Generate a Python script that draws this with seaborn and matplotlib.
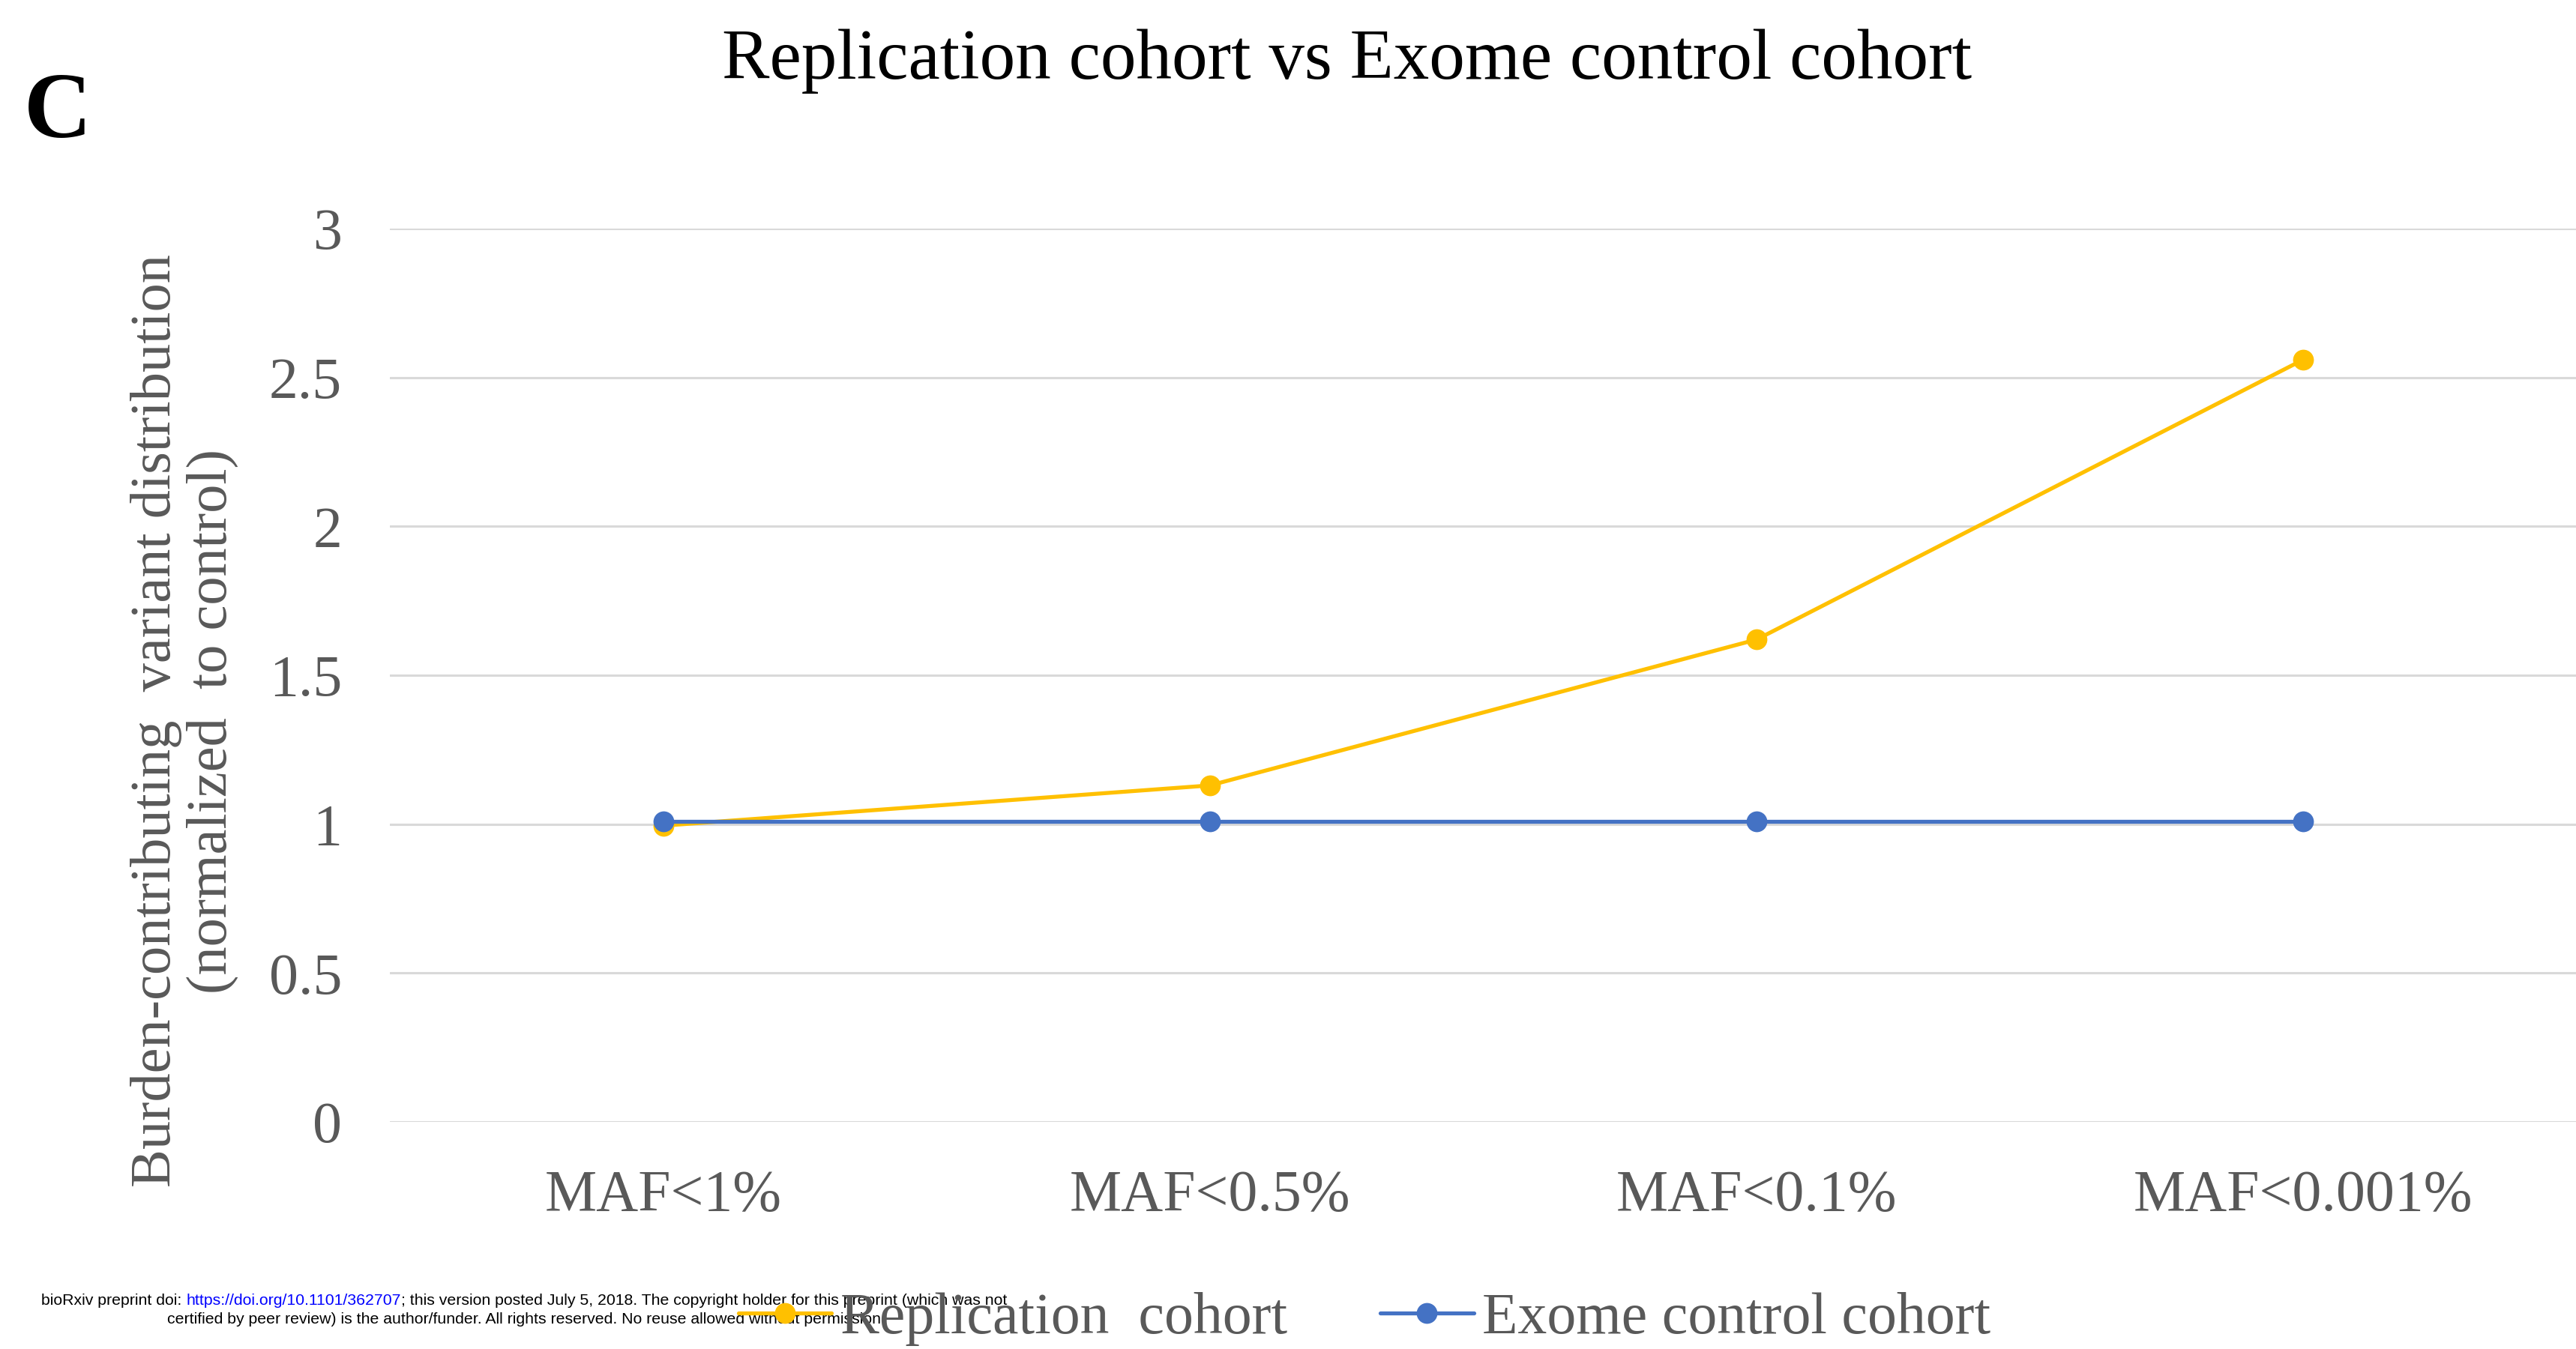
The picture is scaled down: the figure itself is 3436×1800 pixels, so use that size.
import matplotlib
matplotlib.use("Agg")
import matplotlib.pyplot as plt
import seaborn as sns
import pandas as pd

categories = ["MAF<1%", "MAF<0.5%", "MAF<0.1%", "MAF<0.001%"]
replication = [0.995, 1.13, 1.62, 2.56]
exome = [1.01, 1.01, 1.01, 1.01]
series_names = ["Replication  cohort", "Exome control cohort"]
yticks = [0, 0.5, 1, 1.5, 2, 2.5, 3]
ytick_labels = ["0", "0.5", "1", "1.5", "2", "2.5", "3"]

df = pd.DataFrame({
    "cat": categories * 2,
    "val": replication + exome,
    "series": [series_names[0]] * 4 + [series_names[1]] * 4,
})

sns.set_theme(style="white")
plt.rcParams["font.family"] = ["Liberation Serif", "DejaVu Serif"]

TXT = "#595959"
YEL = "#FFC000"
BLU = "#4472C4"
GRID = "#D9D9D9"

fig = plt.figure(figsize=(34.37, 18.0), dpi=100)
ax = fig.add_axes([520 / 3437, 1 - 1497 / 1800, 1 - 520 / 3437, (1497 - 305) / 1800])

sns.lineplot(data=df, x="cat", y="val", hue="series", hue_order=series_names,
             palette=[YEL, BLU], marker="o", markersize=20, markeredgewidth=0,
             linewidth=3.8, sort=False, ax=ax)

ax.set_xlim(-0.5, 3.5)
ax.set_ylim(0, 3)
ax.set_yticks(yticks)
ax.set_yticklabels(ytick_labels)
ax.yaxis.grid(True, color=GRID, linewidth=2.2)
ax.xaxis.grid(False)
ax.set_axisbelow(True)
for s in ax.spines.values():
    s.set_visible(False)
ax.tick_params(axis="y", labelsize=56, labelcolor=TXT, pad=46, length=0)
ax.tick_params(axis="x", labelsize=56, labelcolor=TXT, pad=46, length=0)
ax.set_xlabel("")
ax.set_ylabel("")

handles, labels = ax.get_legend_handles_labels()
ax.get_legend().remove()
leg = fig.legend(handles, labels, loc="center", bbox_to_anchor=(1820 / 3437, 1 - 1760 / 1800),
                 ncol=2, frameon=False, fontsize=56, handlelength=1.6, columnspacing=1.6,
                 handletextpad=0.15, labelcolor=TXT)

fig.text(1797 / 3437, 1 - 82 / 1800, "Replication cohort vs Exome control cohort",
         ha="center", va="center", fontsize=68.5, color="black")
fig.text(77 / 3437, 1 - 153 / 1800, "C", ha="center", va="center", fontsize=90,
         fontweight="bold", color="black")
fig.text(246 / 3437, 1 - 962 / 1800,
         "Burden-contributing  variant distribution\n(normalized  to control)",
         ha="center", va="center", rotation=90, multialignment="center",
         fontsize=55, color=TXT, linespacing=1.1)

# preprint notice
fs = 15.3
sans = ["Liberation Sans", "DejaVu Sans"]
t1 = fig.text(55 / 3437, 1 - 1745 / 1800, "bioRxiv preprint doi: ", ha="left", va="bottom",
              fontsize=fs, family=sans, color="black")
t2 = ax.annotate("https://doi.org/10.1101/362707", xy=(1, 0), xycoords=t1, ha="left", va="bottom",
                 fontsize=fs, family=sans, color="#0000FF", annotation_clip=False)
t3 = ax.annotate("; this version posted July 5, 2018. The copyright holder for this preprint (which was not",
                 xy=(1, 0), xycoords=t2, ha="left", va="bottom",
                 fontsize=fs, family=sans, color="black", annotation_clip=False)
fig.text(702 / 3437, 1 - 1770 / 1800,
         "certified by peer review) is the author/funder. All rights reserved. No reuse allowed without permission.",
         ha="center", va="bottom", fontsize=fs, family=sans, color="black")

fig.savefig("out.png", dpi=100)
